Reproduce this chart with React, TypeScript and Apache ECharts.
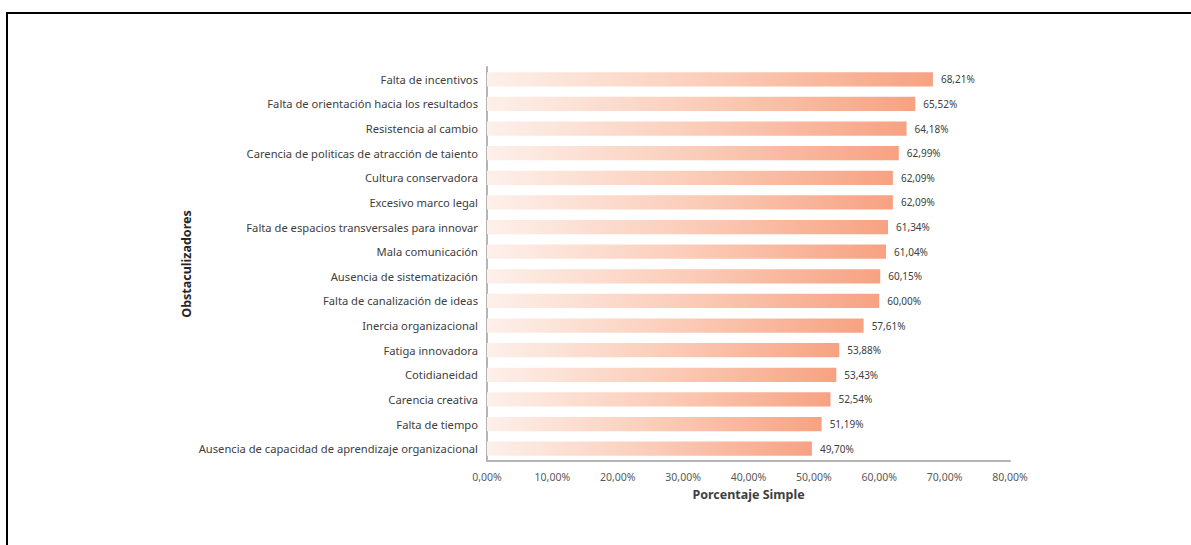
import React, { useEffect, useRef } from "react";
import * as echarts from "echarts";

const categories = [
  "Falta de incentivos",
  "Falta de orientación hacia los resultados",
  "Resistencia al cambio",
  "Carencia de politicas de atracción de taiento",
  "Cultura conservadora",
  "Excesivo marco legal",
  "Falta de espacios transversales para innovar",
  "Mala comunicación",
  "Ausencia de sistematización",
  "Falta de canalización de ideas",
  "Inercia organizacional",
  "Fatiga innovadora",
  "Cotidianeidad",
  "Carencia creativa",
  "Falta de tiempo",
  "Ausencia de capacidad de aprendizaje organizacional",
];

const values = [68.21, 65.52, 64.18, 62.99, 62.09, 62.09, 61.34, 61.04, 60.15, 60.0, 57.61, 53.88, 53.43, 52.54, 51.19, 49.7];

const xTicks = [0, 10, 20, 30, 40, 50, 60, 70, 80];

const fmt = (v: number) => v.toFixed(2).replace(".", ",") + "%";

export default function App() {
  const ref = useRef<HTMLDivElement>(null);
  useEffect(() => {
    if (!ref.current) return;
    const chart = echarts.init(ref.current, undefined, { renderer: "svg" });
    const font = "Noto Sans";
    chart.setOption({
      animation: false,
      backgroundColor: "#ffffff",
      graphic: [
        {
          type: "polyline",
          shape: { points: [[7, 545], [7, 13], [1191, 13]] },
          style: { stroke: "#000000", lineWidth: 2, fill: "none" },
        },
      ],
      grid: { left: 487, right: 181, top: 67, bottom: 84 },
      xAxis: {
        type: "value",
        min: xTicks[0],
        max: xTicks[xTicks.length - 1],
        interval: 10,
        name: "Porcentaje Simple",
        nameLocation: "middle",
        nameGap: 27,
        nameTextStyle: { fontFamily: font, fontSize: 12.5, fontWeight: "bold", color: "#404040" },
        axisLine: { show: true, lineStyle: { color: "#B5B5B5", width: 2 } },
        axisTick: { show: false },
        splitLine: { show: false },
        axisLabel: {
          formatter: (v: number) => fmt(v),
          fontFamily: font,
          fontSize: 10.5,
          color: "#595959",
          margin: 10,
        },
      },
      yAxis: {
        type: "category",
        data: categories,
        inverse: true,
        name: "Obstaculizadores",
        nameLocation: "middle",
        nameGap: 294,
        nameRotate: 90,
        nameTextStyle: { fontFamily: font, fontSize: 12.5, fontWeight: "bold", color: "#262626" },
        axisLine: { show: true, lineStyle: { color: "#B5B5B5", width: 2 } },
        axisTick: { show: false },
        axisLabel: { fontFamily: font, fontSize: 11.2, color: "#404040", margin: 9 },
      },
      series: [
        {
          type: "bar",
          data: values,
          barCategoryGap: "42%",
          itemStyle: {
            color: new echarts.graphic.LinearGradient(0, 0, 1, 0, [
              { offset: 0, color: "#FDF0EA" },
              { offset: 0.5, color: "#FBCDB9" },
              { offset: 1, color: "#F7A282" },
            ]),
          },
          label: {
            show: true,
            position: "right",
            distance: 8,
            formatter: (p: any) => fmt(p.value),
            fontFamily: font,
            fontSize: 10,
            color: "#404040",
          },
        },
      ],
    });
    return () => chart.dispose();
  }, []);
  return (
    <div
      ref={ref}
      style={{ position: "fixed", left: 0, top: 0, width: 1191, height: 545 }}
    />
  );
}
